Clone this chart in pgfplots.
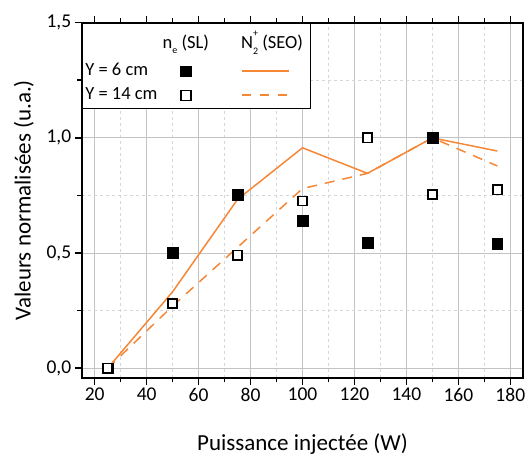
\documentclass[border=0pt]{standalone}
\usepackage{pgfplots}
\pgfplotsset{compat=1.18}
\usepackage{fontspec}
\setmainfont{Carlito}
\definecolor{org}{RGB}{245,135,55}
\definecolor{majgrid}{RGB}{195,195,195}
\definecolor{mingrid}{RGB}{215,215,215}

\pgfplotstableread{
x y
25 0
50 0.503
75 0.754
100 0.641
125 0.546
150 1.0
175 0.539
}\filledY

\pgfplotstableread{
x y
25 0
50 0.281
75 0.491
100 0.726
125 1.0
150 0.754
175 0.775
}\openY

\pgfplotstableread{
x y
25 0
50 0.332
75 0.733
100 0.957
125 0.846
150 1.0
175 0.943
}\solidN

\pgfplotstableread{
x y
25 0
50 0.27
75 0.525
100 0.78
125 0.846
150 1.0
175 0.878
}\dashN

\newcommand{\Ntwoplus}{N\rlap{\raisebox{0.62em}{\fontsize{10}{10}\selectfont +}}\raisebox{-0.32em}{\fontsize{10}{10}\selectfont 2}}

\begin{document}
\begin{tikzpicture}
\begin{axis}[
  scale only axis,
  width=441.6pt, height=355pt,
  xmin=15, xmax=185, ymin=-0.041, ymax=1.5,
  xtick={20,40,...,180}, minor xtick={30,50,...,170},
  ytick={0,0.5,1,1.5}, minor ytick={0.25,0.75,1.25},
  grid=both,
  major grid style={draw=majgrid, line width=0.9pt},
  minor grid style={draw=mingrid, dashed, line width=0.7pt},
  axis line style={line width=2pt, black},
  tick style={line width=1.6pt, black},
  major tick length=7pt, minor tick length=4.5pt,
  tick align=outside,
  xtick pos=both, ytick pos=left,
  xticklabel pos=bottom,
  /pgf/number format/assume math mode=true,
  tick label style={font=\fontsize{19.5}{20}\selectfont},
  yticklabel style={/pgf/number format/.cd, use comma, fixed, fixed zerofill, precision=1},
  xlabel={Puissance injectée (W)},
  ylabel={Valeurs normalisées (u.a.)},
  label style={font=\fontsize{23}{24}\selectfont},
  xlabel style={at={(axis description cs:0.5,-0.188)}, anchor=center},
  ylabel style={at={(axis description cs:-0.131,0.5)}, anchor=center, rotate=0},
  legend columns=3,
  legend cell align=left,
  legend style={at={(rel axis cs:0,1)}, anchor=north west,
    draw=black, line width=0.8pt, fill=white,
    font=\fontsize{18.5}{19}\selectfont,
    inner xsep=3.3pt, inner ysep=5pt,
    row sep=8.3pt,
    nodes={inner sep=0pt, text height=12pt, text depth=4pt},
    /tikz/every odd column/.style={column sep=0pt},
    /tikz/every even column/.style={column sep=0pt},
  },
]
% markers
\addplot[only marks, mark=square*, mark size=5.4pt, mark options={draw=black, fill=black, line width=0.5pt}, forget plot] table[x=x,y=y] {\filledY};
\addplot[only marks, mark=square*, mark size=4.6pt, mark options={draw=black, fill=white, line width=1.6pt}, forget plot] table[x=x,y=y] {\openY};
% lines
\addplot[org, line width=1.5pt, no marks, forget plot] table[x=x,y=y] {\solidN};
\addplot[org, line width=1.5pt, no marks, dash pattern=on 10pt off 8pt, forget plot] table[x=x,y=y] {\dashN};

% legend: header row
\addlegendimage{empty legend}
\addlegendentry{}
\addlegendimage{legend image code/.code={%
  \path (-28pt,15.6pt) (28pt,-10.4pt);
  \node[anchor=center, inner sep=0pt, text height=12pt, text depth=4pt] at (0,0) {n\raisebox{-0.3em}{\fontsize{10}{10}\selectfont e} (SL)};}}
\addlegendentry{}
\addlegendimage{legend image code/.code={%
  \path (0pt,15.6pt) (89.5pt,-10.4pt);
  \node[anchor=west, inner sep=0pt, text height=12pt, text depth=4pt] at (25pt,0) {\Ntwoplus{} (SEO)};}}
\addlegendentry{}
% row Y = 6 cm
\addlegendimage{empty legend}
\addlegendentry{Y = 6 cm}
\addlegendimage{legend image code/.code={%
  \path (-28pt,0pt) (28pt,0pt);
  \draw[only marks, mark=square*, mark size=5.4pt, mark options={draw=black, fill=black, line width=0.5pt}] plot coordinates {(0pt,0pt)};}}
\addlegendentry{}
\addlegendimage{legend image code/.code={%
  \path (0pt,0pt) (89.5pt,0pt);
  \draw[org, line width=1.6pt] (26pt,0pt) -- (73pt,0pt);}}
\addlegendentry{}
% row Y = 14 cm
\addlegendimage{empty legend}
\addlegendentry{Y = 14 cm}
\addlegendimage{legend image code/.code={%
  \path (-28pt,0pt) (28pt,0pt);
  \draw[only marks, mark=square*, mark size=5pt, mark options={draw=black, fill=white, line width=1.7pt}] plot coordinates {(0pt,0pt)};}}
\addlegendentry{}
\addlegendimage{legend image code/.code={%
  \path (0pt,0pt) (89.5pt,0pt);
  \draw[org, line width=1.8pt, dash pattern=on 9pt off 9pt] (26pt,0.5pt) -- (72pt,0.5pt);}}
\addlegendentry{}
\end{axis}
\pgfresetboundingbox
\path ([xshift=-81.7pt,yshift=-78.3pt]current axis.south west) rectangle ([xshift=4.7pt,yshift=22.7pt]current axis.north east);
\end{tikzpicture}
\end{document}
